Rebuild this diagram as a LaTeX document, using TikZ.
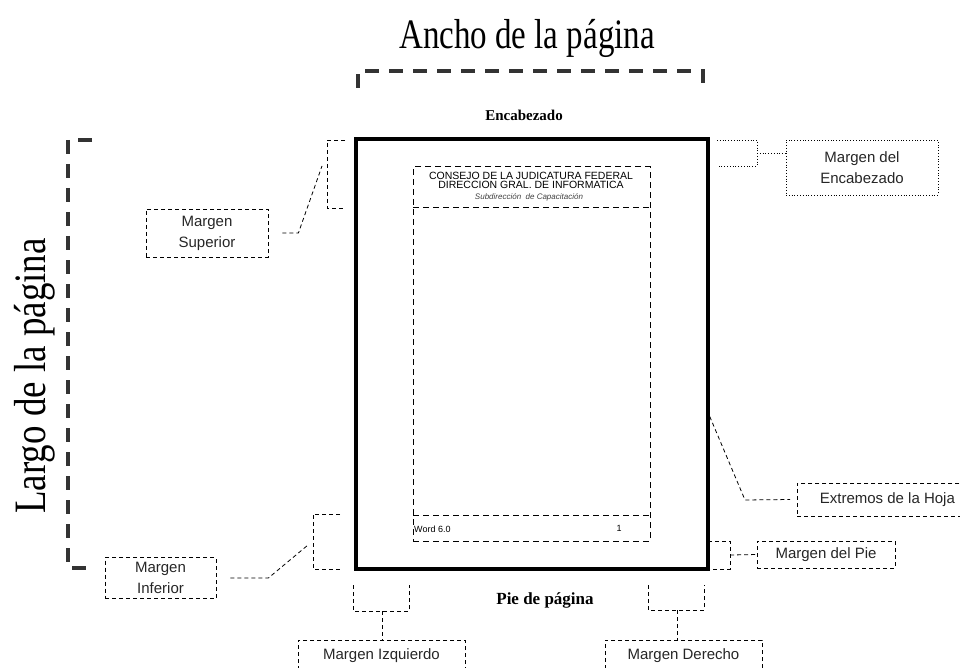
\documentclass[tikz,border=0pt]{standalone}
\usepackage{fontspec}
\setmainfont{Liberation Serif}
\setsansfont{Liberation Sans}

\begin{document}
\begin{tikzpicture}[x=1pt,y=-1pt]
	\tikzstyle{m} = [draw, line width=0.8pt, dash pattern=on 4pt off 3pt, inner sep=0, align=center, text=black!85, font=\sffamily\fontsize{15}{21}\selectfont]
	\tikzstyle{g} = [line width=0.8pt, dash pattern=on 4pt off 3pt]
	\tikzstyle{cota} = [line width=4pt, black!80, dash pattern=on 14pt off 10pt]
	\tikzstyle{titulo} = [font=\fontsize{33}{33}\selectfont, inner sep=0]
	\useasboundingbox (0,0) rectangle (960,668);

	% medidas de la hoja
	\node [titulo, yscale=1.27, transform shape] (ancho) at (527,38) {Ancho de la página};
	\node [titulo, rotate=90, xscale=1.12, yscale=1.36, transform shape] (largo) at (35,376) {Largo de la página};
	\draw [cota] (358,88) -- (358,71) -- (703,71) -- (703,88);
	\draw [cota] (92,140) -- (68,140) -- (68,568) -- (92,568);

	% hoja y area de texto
	\node [draw, line width=4pt, minimum width=352, minimum height=430, inner sep=0] (hoja) at (532,354) {};
	\node [draw, line width=1pt, dash pattern=on 6pt off 4pt, minimum width=237, minimum height=374, inner sep=0] (texto) at (531.5,354) {};
	\draw [line width=1pt, dash pattern=on 6pt off 4pt] (413,208) -- (650,208);
	\draw [line width=1pt, dash pattern=on 6pt off 4pt] (413,515) -- (650,515);

	\node [font=\bfseries\fontsize{15}{15}\selectfont] (enc) at (524,115) {Encabezado};
	\node [font=\bfseries\fontsize{17}{17}\selectfont] (pie) at (545,600) {Pie de página};

	\node [align=center, font=\sffamily\fontsize{10.5}{9}\selectfont, inner sep=0] (cjf) at (531,180) {CONSEJO DE LA JUDICATURA FEDERAL\\DIRECCION GRAL. DE INFORMATICA};
	\node [font=\sffamily\itshape\fontsize{8}{8}\selectfont, text=black!75, inner sep=0] (sub) at (529,197) {Subdirección \ de Capacitación};
	\node [anchor=west, font=\sffamily\fontsize{9}{9}\selectfont, inner sep=0] (word) at (414,529) {Word 6.0};
	\node [font=\sffamily\fontsize{9}{9}\selectfont, inner sep=0] (num) at (619,528) {1};

	% guias de los margenes
	\draw [g] (345,140) -- (327,140) -- (327,208) -- (345,208);
	\draw [g] (340,514) -- (313,514) -- (313,569) -- (340,569);
	\draw [g, dotted] (717,140) -- (757,140) -- (757,166) -- (717,166);
	\draw [g] (708,541) -- (730,541) -- (730,569) -- (708,569);
	\draw [g] (353,585) -- (353,611) -- (409,611) -- (409,585);
	\draw [g] (648,585) -- (648,610) -- (704,610) -- (704,585);

	\coordinate (csup) at (322,166);
	\coordinate (cinf) at (308,545);
	\coordinate (cenc) at (757,153);
	\coordinate (cext) at (707,410);
	\coordinate (cpie) at (730,555);
	\coordinate (cizq) at (382,611);
	\coordinate (cder) at (677,610);

	% etiquetas
	\node [m, minimum width=122, minimum height=48] (msup) at (207,233) {Margen\\Superior};
	\node [m, minimum width=111, minimum height=41, text depth=-4pt] (minf) at (160.5,578) {Margen\\Inferior};
	\node [m, dotted, minimum width=152, minimum height=55] (menc) at (862,167.5) {Margen del\\Encabezado};
	\node [m, anchor=west, minimum width=180, minimum height=33] (mext) at (797,499.5) {Extremos de la Hoja};
	\node [m, minimum width=138, minimum height=27] (mpie) at (826,554.5) {Margen del Pie};
	\node [m, minimum width=167, minimum height=32] (mizq) at (381.5,656) {Margen Izquierdo};
	\node [m, minimum width=157, minimum height=32] (mder) at (683.5,656) {Margen Derecho};

	\draw [g] ([xshift=14pt]msup.east) -- ++(16,0) -- (csup);
	\draw [g] ([xshift=14pt]minf.east) -- ++(38,0) -- (cinf);
	\draw [g, dotted] (cenc) -- (cenc -| menc.west);
	\draw [g] (cext) -- (745,500) -- ([xshift=-7pt]mext.west);
	\draw [g] (cpie) -- (mpie.west);
	\draw [g] (cizq) -- (cizq |- mizq.north);
	\draw [g] (cder) -- (cder |- mder.north);
\end{tikzpicture}
\end{document}
